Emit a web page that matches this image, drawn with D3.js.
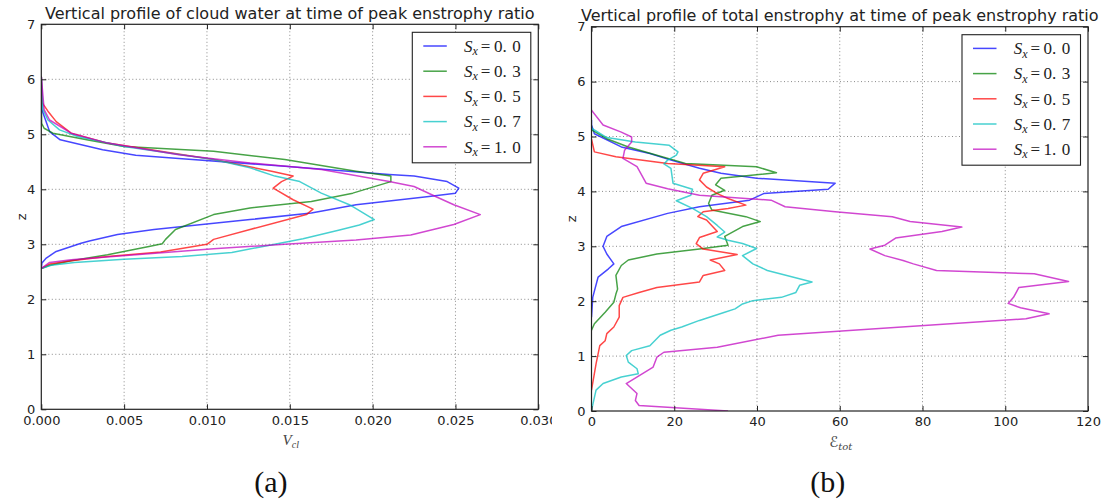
<!DOCTYPE html>
<html>
<head>
<meta charset="utf-8">
<script src="https://cdn.jsdelivr.net/npm/d3@7"></script>
<style>
  body { margin: 0; background: #fff; }
  svg { display: block; }
</style>
</head>
<body>
<div id="chart"></div>
<script>
// ---- data ----
const shearLabels = ["0.0", "0.3", "0.5", "0.7", "1.0"];
const lineColors = ["#0000ff", "#008000", "#ff0000", "#00bfbf", "#bf00bf"];
const zTicks = [0, 1, 2, 3, 4, 5, 6, 7];
const cloudTicks = [0, 0.005, 0.010, 0.015, 0.020, 0.025, 0.030];
const enstTicks = [0, 20, 40, 60, 80, 100, 120];

// (a) cloud water profiles, [V_cl, z]
const cloudS00 = [[0, 6.05], [0.00003, 5.45], [0.0005, 5.05], [0.00114, 4.9], [0.0037, 4.72], [0.0057, 4.62], [0.0087, 4.55], [0.0147, 4.42], [0.021, 4.27], [0.0225, 4.24], [0.0245, 4.14], [0.0252, 4.02], [0.025, 3.93], [0.0234, 3.87], [0.019, 3.72], [0.0163, 3.57], [0.0126, 3.45], [0.0068, 3.27], [0.0046, 3.18], [0.0029, 3.06], [0.0024, 3.02], [0.0009, 2.87], [0.0003, 2.75], [0.00004, 2.66], [0, 2.56]];
const cloudS03 = [[0, 6.05], [0.00002, 5.2], [0.00017, 5.11], [0.0007, 5.02], [0.0029, 4.89], [0.005, 4.78], [0.0104, 4.69], [0.0147, 4.54], [0.019, 4.33], [0.0211, 4.24], [0.0211, 4.14], [0.0188, 3.93], [0.0163, 3.78], [0.0126, 3.66], [0.0104, 3.54], [0.0081, 3.27], [0.0075, 3.09], [0.0073, 3.01], [0.0065, 2.96], [0.004, 2.81], [0.0018, 2.7], [0.0005, 2.62], [0, 2.56]];
const cloudS05 = [[0, 6.05], [0.00006, 5.57], [0.0004, 5.42], [0.0009, 5.23], [0.0018, 5.02], [0.004, 4.84], [0.0072, 4.69], [0.0104, 4.54], [0.0139, 4.33], [0.0152, 4.24], [0.0145, 4.14], [0.014, 4.02], [0.0152, 3.81], [0.0164, 3.64], [0.016, 3.54], [0.0126, 3.27], [0.0104, 3.09], [0.01, 3.0], [0.0072, 2.86], [0.004, 2.78], [0.0018, 2.7], [0.0005, 2.64], [0, 2.56]];
const cloudS07 = [[0, 6.05], [0.0001, 5.45], [0.0004, 5.26], [0.0011, 5.08], [0.0022, 4.96], [0.005, 4.78], [0.0104, 4.54], [0.0126, 4.39], [0.0141, 4.24], [0.0156, 4.14], [0.0169, 3.93], [0.0186, 3.72], [0.0201, 3.45], [0.0192, 3.35], [0.018, 3.26], [0.0158, 3.1], [0.0137, 2.98], [0.0115, 2.85], [0.0085, 2.78], [0.005, 2.73], [0.002, 2.67], [0.0006, 2.62], [0, 2.56]];
const cloudS10 = [[0, 6.05], [0.00017, 5.45], [0.0005, 5.26], [0.0018, 5.02], [0.004, 4.84], [0.0083, 4.63], [0.0126, 4.48], [0.0169, 4.36], [0.021, 4.14], [0.0225, 4.05], [0.0238, 3.87], [0.0249, 3.72], [0.0265, 3.54], [0.0249, 3.36], [0.0223, 3.17], [0.019, 3.08], [0.0147, 3.0], [0.0104, 2.92], [0.0061, 2.82], [0.0018, 2.72], [0.0005, 2.67], [0, 2.56]];

// (b) total enstrophy profiles, [E_tot, z]
const enstS00 = [[0, 5.3], [0, 5.21], [0.7, 5.05], [7.2, 4.81], [14.1, 4.69], [19.2, 4.57], [26.1, 4.42], [31.3, 4.33], [39.9, 4.24], [58.9, 4.15], [57.2, 4.04], [41.6, 3.96], [38.2, 3.84], [26.1, 3.72], [18.4, 3.6], [7.2, 3.36], [3.7, 3.18], [2.8, 3.0], [3.7, 2.86], [5.4, 2.68], [4.1, 2.59], [1.6, 2.44], [0.3, 2.07], [0, 1.71]];
const enstS03 = [[0, 5.2], [0, 5.12], [3.7, 4.96], [8.9, 4.81], [15.8, 4.66], [22.7, 4.51], [39.9, 4.45], [44.7, 4.34], [31.3, 4.24], [30.0, 4.12], [32.2, 4.02], [29.1, 3.93], [28.3, 3.78], [29.1, 3.66], [37.3, 3.54], [40.8, 3.45], [36.5, 3.36], [32.2, 3.18], [33.0, 3.02], [26.1, 2.95], [15.8, 2.86], [8.9, 2.75], [7.2, 2.65], [5.9, 2.47], [6.3, 2.22], [5.9, 2.13], [5.4, 1.98], [3.3, 1.8], [0.7, 1.59], [0, 1.47]];
const enstS05 = [[0, 4.95], [0.7, 4.72], [5.9, 4.63], [18.4, 4.51], [32.2, 4.45], [27.0, 4.33], [26.1, 4.21], [27.8, 4.08], [30.4, 3.96], [33.0, 3.87], [37.3, 3.75], [33.0, 3.69], [27.0, 3.63], [25.7, 3.54], [27.8, 3.48], [30.4, 3.27], [26.1, 3.16], [25.3, 3.05], [27.0, 2.95], [35.2, 2.85], [28.7, 2.75], [30.9, 2.68], [32.2, 2.56], [27.0, 2.47], [26.1, 2.35], [15.8, 2.25], [11.5, 2.16], [7.6, 2.07], [6.7, 1.92], [6.7, 1.71], [5.4, 1.53], [3.7, 1.41], [3.3, 1.28], [2.0, 1.19], [1.1, 0.86], [0, 0.38]];
const enstS07 = [[0, 5.15], [3.7, 4.98], [10.6, 4.9], [18.8, 4.84], [20.9, 4.72], [20.5, 4.66], [18.4, 4.57], [17.5, 4.5], [19.2, 4.42], [19.7, 4.15], [24.4, 4.04], [24.0, 3.93], [20.5, 3.83], [24.4, 3.69], [27.8, 3.54], [30.4, 3.38], [32.2, 3.26], [30.4, 3.17], [33.0, 3.11], [36.5, 3.05], [39.9, 2.96], [36.5, 2.83], [39.0, 2.68], [42.5, 2.56], [53.3, 2.35], [50.3, 2.29], [49.4, 2.16], [45.9, 2.07], [39.0, 2.01], [36.5, 1.95], [34.7, 1.86], [32.2, 1.8], [26.1, 1.65], [21.8, 1.53], [19.2, 1.47], [16.6, 1.38], [14.1, 1.19], [9.7, 1.1], [8.4, 1.01], [8.9, 0.89], [11.0, 0.77], [11.3, 0.68], [7.2, 0.62], [2.8, 0.5], [1.1, 0.38], [0, 0.01]];
const enstS10 = [[0, 5.48], [2.8, 5.21], [7.2, 5.08], [9.7, 4.99], [9.7, 4.9], [8.0, 4.75], [7.6, 4.6], [11.0, 4.45], [11.9, 4.33], [13.2, 4.15], [18.4, 4.05], [26.1, 3.93], [43.4, 3.84], [46.8, 3.72], [58.9, 3.63], [72.7, 3.54], [77.0, 3.45], [89.5, 3.35], [84.7, 3.27], [73.5, 3.15], [70.9, 3.02], [67.3, 2.95], [70.9, 2.83], [75.3, 2.74], [77.8, 2.68], [83.4, 2.56], [107.0, 2.5], [115.3, 2.36], [103.3, 2.25], [102.0, 2.07], [100.7, 1.96], [103.7, 1.88], [110.6, 1.77], [105.0, 1.68], [45.1, 1.38], [30.4, 1.16], [17.5, 1.07], [15.8, 0.98], [14.9, 0.8], [8.4, 0.5], [11.0, 0.32], [10.6, 0.19], [11.5, 0.1], [33.0, 0.0]];

function drawPanel(svg, p) {
    const x = d3.scaleLinear().domain(p.xDomain).range([p.left, p.right]);
    const y = d3.scaleLinear().domain([0, 7]).range([p.bottom, p.top]);
    const ink = "#222";

    svg.append("clipPath").attr("id", "plot-" + p.id)
        .append("rect")
        .attr("x", p.left).attr("y", p.top)
        .attr("width", p.right - p.left).attr("height", p.bottom - p.top);
    svg.append("clipPath").attr("id", "panel-" + p.id)
        .append("rect")
        .attr("x", p.clip[0]).attr("y", 0)
        .attr("width", p.clip[1] - p.clip[0]).attr("height", 503);

    const g = svg.append("g").attr("clip-path", `url(#panel-${p.id})`);

    // dotted grid
    const grid = g.append("g")
        .attr("stroke", "#8a8a8a")
        .attr("stroke-width", 1)
        .attr("stroke-dasharray", "1,2.5");
    grid.selectAll(".gx").data(p.xTicks.slice(1, -1)).join("line")
        .attr("x1", d => x(d)).attr("x2", d => x(d))
        .attr("y1", p.top).attr("y2", p.bottom);
    grid.selectAll(".gy").data(zTicks.slice(1, -1)).join("line")
        .attr("x1", p.left).attr("x2", p.right)
        .attr("y1", d => y(d)).attr("y2", d => y(d));

    // profiles
    const line = d3.line().x(d => x(d[0])).y(d => y(d[1]));
    g.append("g")
        .attr("clip-path", `url(#plot-${p.id})`)
        .selectAll("path")
        .data(p.series)
        .join("path")
        .attr("d", d => line(d))
        .attr("fill", "none")
        .attr("stroke", (d, i) => lineColors[i])
        .attr("stroke-opacity", 0.72)
        .attr("stroke-width", 1.5)
        .attr("stroke-linejoin", "round");

    // axes, ticks pointing inward on all sides
    const styleAxis = sel => {
        sel.attr("font-family", "DejaVu Sans").attr("font-size", 13);
        sel.select(".domain").remove();
        sel.selectAll(".tick line").attr("stroke", ink);
        sel.selectAll(".tick text").attr("fill", ink);
    };
    g.append("g").attr("transform", `translate(0,${p.bottom})`)
        .call(d3.axisBottom(x).tickValues(p.xTicks).tickFormat(p.xFormat)
            .tickSizeInner(-5).tickSizeOuter(0).tickPadding(6))
        .call(styleAxis);
    g.append("g").attr("transform", `translate(0,${p.top})`)
        .call(d3.axisTop(x).tickValues(p.xTicks).tickFormat("")
            .tickSizeInner(-5).tickSizeOuter(0))
        .call(styleAxis);
    g.append("g").attr("transform", `translate(${p.left},0)`)
        .call(d3.axisLeft(y).tickValues(zTicks).tickFormat(d3.format("d"))
            .tickSizeInner(-5).tickSizeOuter(0).tickPadding(6))
        .call(styleAxis);
    g.append("g").attr("transform", `translate(${p.right},0)`)
        .call(d3.axisRight(y).tickValues(zTicks).tickFormat("")
            .tickSizeInner(-5).tickSizeOuter(0))
        .call(styleAxis);

    // frame
    g.append("rect")
        .attr("x", p.left).attr("y", p.top)
        .attr("width", p.right - p.left).attr("height", p.bottom - p.top)
        .attr("fill", "none").attr("stroke", ink).attr("stroke-width", 1.2);

    // title
    g.append("text")
        .attr("x", (p.left + p.right) / 2).attr("y", p.top - 5.5)
        .attr("text-anchor", "middle")
        .attr("font-family", "DejaVu Sans").attr("font-size", 16)
        .attr("fill", ink)
        .text(p.title);

    // y label
    g.append("text")
        .attr("transform", `translate(${p.left - 15.5},${(p.top + p.bottom) / 2}) rotate(-90)`)
        .attr("text-anchor", "middle")
        .attr("font-family", "DejaVu Sans").attr("font-size", 13)
        .attr("fill", ink)
        .text("z");

    // x label (math)
    const xl = g.append("text")
        .attr("x", (p.left + p.right) / 2 + 1).attr("y", p.bottom + 36)
        .attr("text-anchor", "middle")
        .attr("font-family", p.xlabelFont)
        .attr("fill", "#444");
    xl.append("tspan").attr("font-style", "italic").attr("font-size", 15).text(p.xlabel[0]);
    xl.append("tspan").attr("font-style", "italic").attr("font-size", 10).attr("dy", 3).text(p.xlabel[1]);

    // legend
    const lg = g.append("g");
    const boxRight = p.right - 7.5, boxW = 118.5, boxTop = p.top + 8;
    lg.append("rect")
        .attr("x", boxRight - boxW).attr("y", boxTop)
        .attr("width", boxW).attr("height", 130.5)
        .attr("fill", "#fff").attr("stroke", ink).attr("stroke-width", 1.1);
    const items = lg.selectAll(".item").data(shearLabels).join("g")
        .attr("transform", (d, i) => `translate(${boxRight - boxW},${boxTop + 13.7 + i * 25.2})`);
    items.append("line")
        .attr("x1", 11).attr("x2", 34.5)
        .attr("stroke", (d, i) => lineColors[i])
        .attr("stroke-opacity", 0.72)
        .attr("stroke-width", 1.5);
    const lt = items.append("text")
        .attr("x", 51.7).attr("y", 5.7)
        .attr("font-family", "Liberation Serif")
        .attr("font-size", 17)
        .attr("fill", ink);
    lt.append("tspan").attr("font-style", "italic").text("S");
    lt.append("tspan").attr("font-style", "italic").attr("font-size", 12).attr("dy", 3.5).text("x");
    lt.append("tspan").attr("dy", -3.5).attr("dx", 3).text("=");
    lt.append("tspan").attr("dx", 3.5).text(d => d.slice(0, 2));
    lt.append("tspan").attr("dx", 5.5).text(d => d.slice(2));

    // caption
    g.append("text")
        .attr("x", (p.left + p.right) / 2 + p.captionShift).attr("y", 492)
        .attr("text-anchor", "middle")
        .attr("font-family", "Liberation Serif").attr("font-size", 30)
        .attr("fill", "#111")
        .text(p.caption);
}

function main() {
    const width = 1109, height = 503;
    const svg = d3.select("#chart").append("svg")
        .attr("width", width)
        .attr("height", height);
    svg.append("rect").attr("width", width).attr("height", height).attr("fill", "#fff");

    drawPanel(svg, {
        id: "a",
        left: 41.3, right: 538.3, top: 24.3, bottom: 409.3,
        clip: [0, 552],
        xDomain: [0, 0.03], xTicks: cloudTicks, xFormat: d3.format(".3f"),
        series: [cloudS00, cloudS03, cloudS05, cloudS07, cloudS10],
        title: "Vertical profile of cloud water at time of peak enstrophy ratio",
        xlabel: ["V", "cl"], xlabelFont: "Liberation Serif",
        caption: "(a)", captionShift: -19
    });

    drawPanel(svg, {
        id: "b",
        left: 591.5, right: 1088, top: 26.7, bottom: 411,
        clip: [552, 1109],
        xDomain: [0, 120], xTicks: enstTicks, xFormat: d3.format("d"),
        series: [enstS00, enstS03, enstS05, enstS07, enstS10],
        title: "Vertical profile of total enstrophy at time of peak enstrophy ratio",
        xlabel: ["\u2130", "tot"], xlabelFont: "DejaVu Serif, DejaVu Sans, Liberation Serif",
        caption: "(b)", captionShift: -12
    });
}
main();
</script>
</body>
</html>
